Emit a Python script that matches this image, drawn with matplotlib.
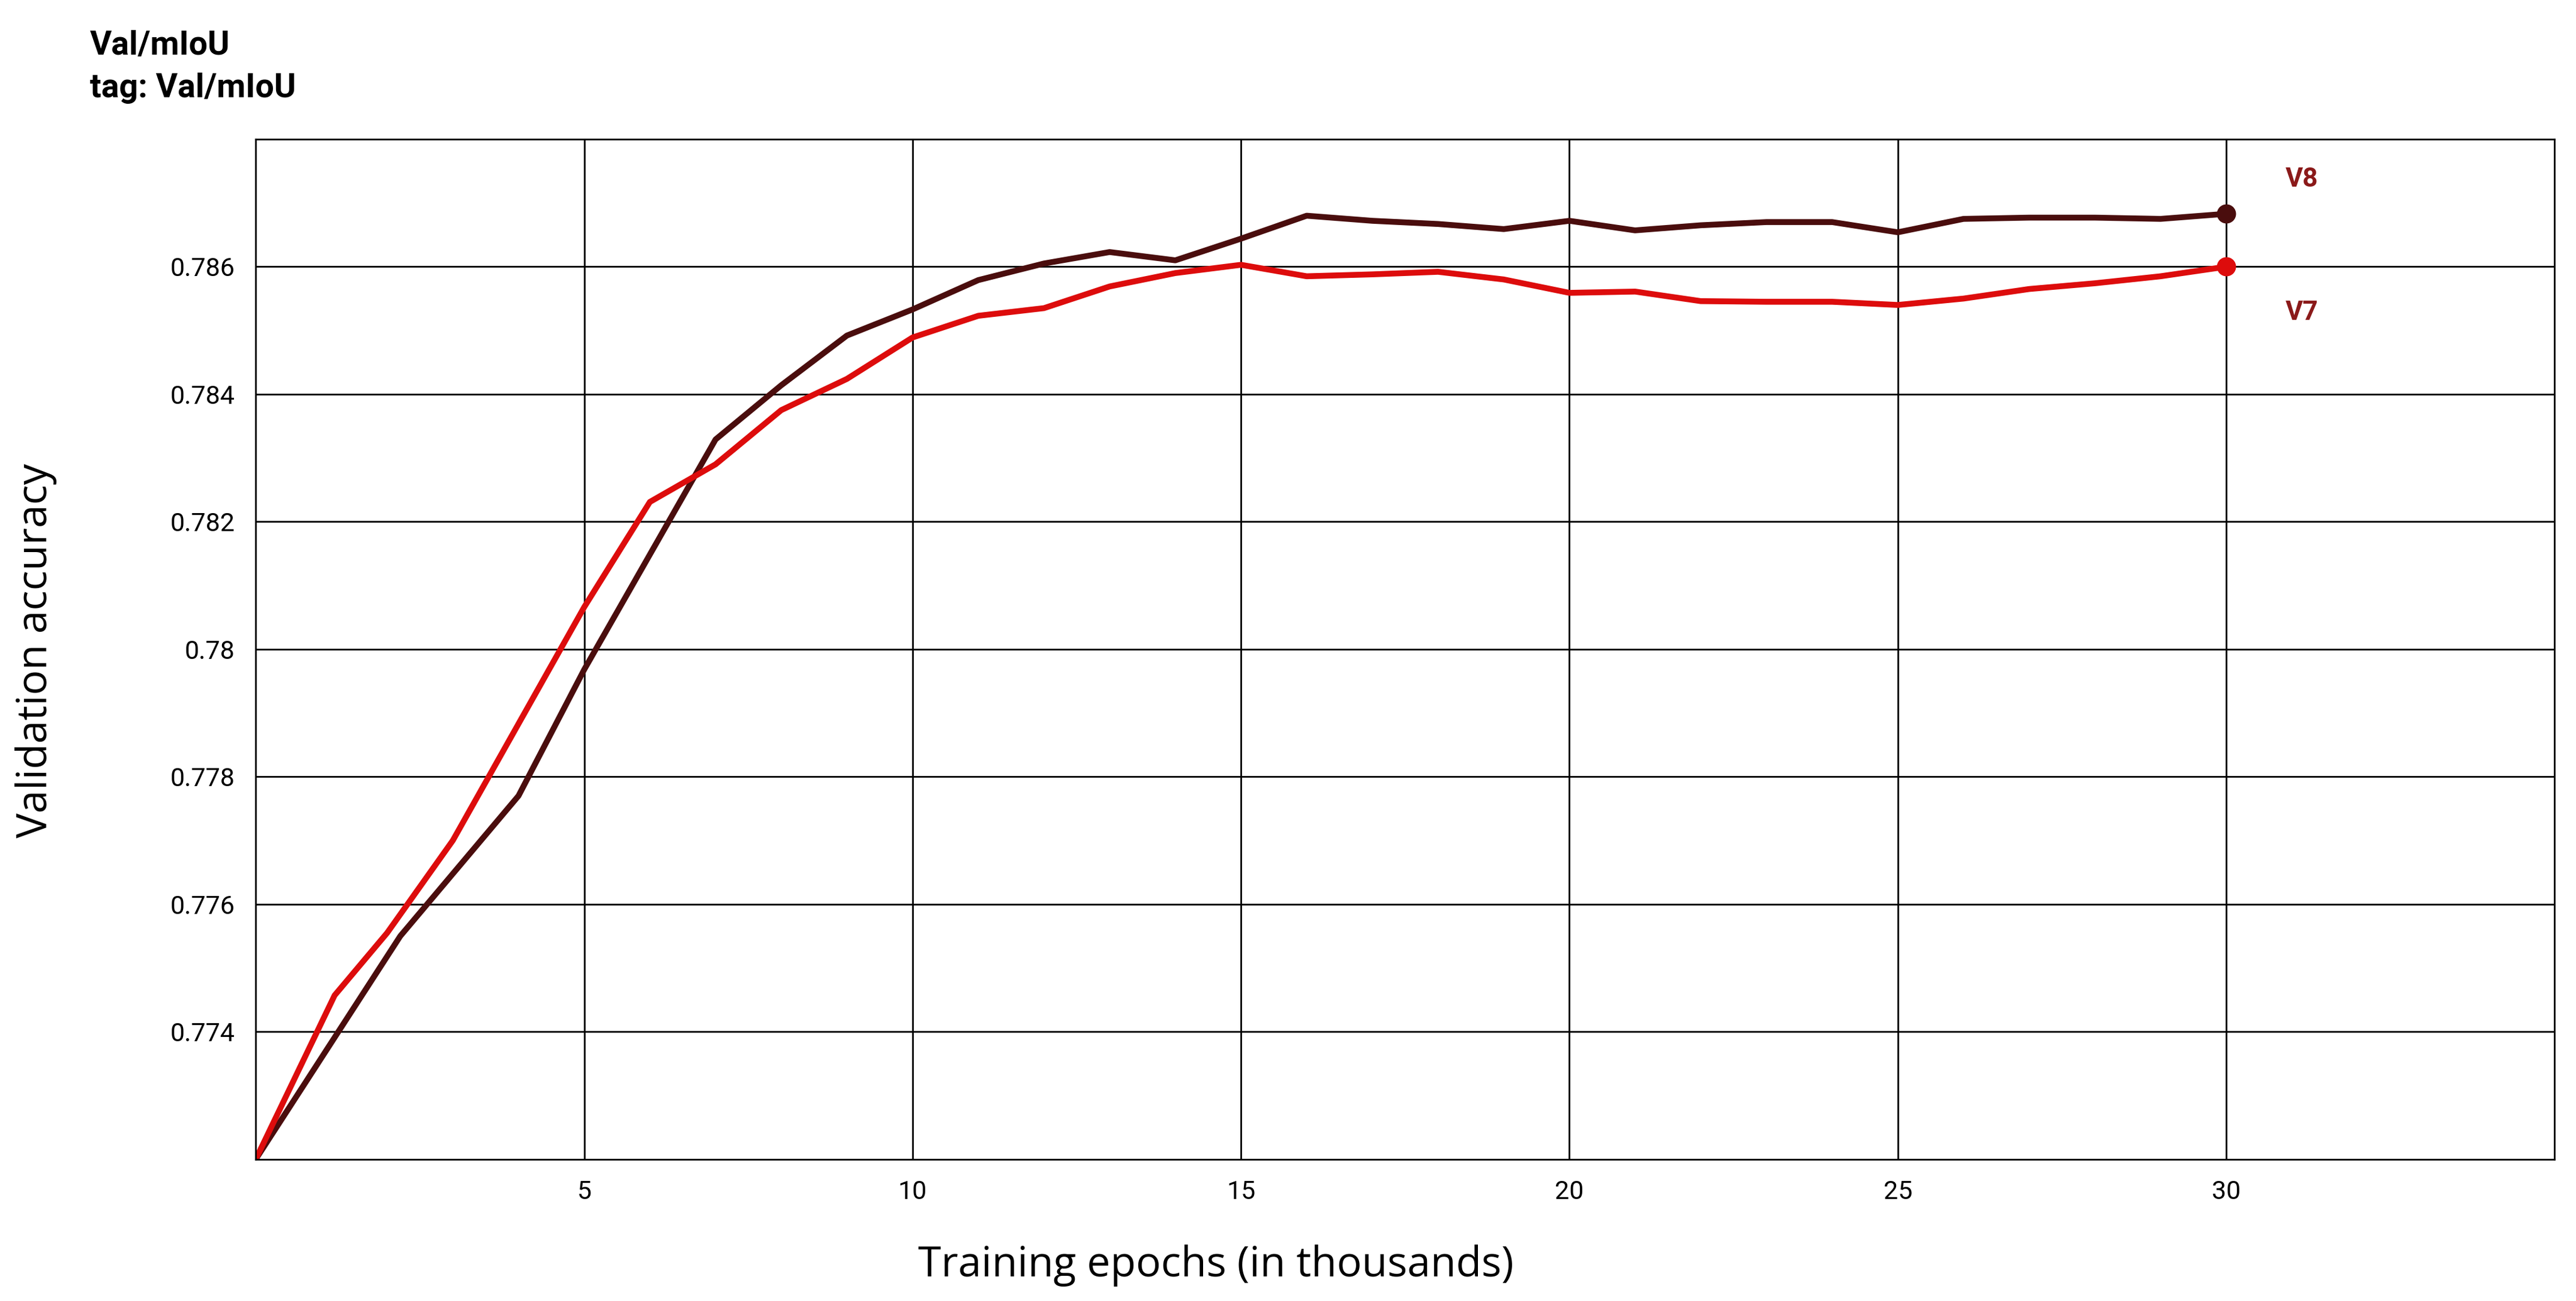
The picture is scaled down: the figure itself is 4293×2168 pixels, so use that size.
import matplotlib
matplotlib.use("Agg")
import matplotlib.pyplot as plt

epochs_v8 = [0, 2.2, 4, 5, 7, 8, 9, 10, 11, 12, 13, 14, 15, 16, 17, 18, 19, 20,
             21, 22, 23, 24, 25, 26, 27, 28, 29, 30]
acc_v8 = [0.772, 0.7755, 0.7777, 0.77968, 0.78329, 0.78414, 0.78492, 0.78533,
          0.78579, 0.78605, 0.78623, 0.7861, 0.78644, 0.7868, 0.78672, 0.78667,
          0.78659, 0.78672, 0.78657, 0.78665, 0.7867, 0.7867, 0.78654, 0.78675,
          0.78677, 0.78677, 0.78675, 0.78683]

epochs_v7 = [0, 1.2, 2, 3, 5, 6, 7, 8, 9, 10, 11, 12, 13, 14, 15, 16, 17, 18,
             19, 20, 21, 22, 23, 24, 25, 26, 27, 28, 29, 30]
acc_v7 = [0.772, 0.77457, 0.77555, 0.7770, 0.78066, 0.78231, 0.7829, 0.78375,
          0.78424, 0.78489, 0.78523, 0.78535, 0.78569, 0.7859, 0.78603, 0.78585,
          0.78588, 0.78592, 0.7858, 0.78559, 0.78561, 0.78546, 0.78545, 0.78545,
          0.7854, 0.7855, 0.78565, 0.78574, 0.78585, 0.786]

x_ticks = [5, 10, 15, 20, 25, 30]
y_ticks = [0.774, 0.776, 0.778, 0.78, 0.782, 0.784, 0.786]
y_tick_labels = ["0.774", "0.776", "0.778", "0.78", "0.782", "0.784", "0.786"]

c_v8 = "#4a0d0d"
c_v7 = "#dd0c0c"

fig = plt.figure(figsize=(42.93, 21.68), dpi=100)
ax = fig.add_axes([0.0993, 0.109, 0.8924, 0.784])

ax.plot(epochs_v8, acc_v8, color=c_v8, linewidth=7)
ax.plot(epochs_v7, acc_v7, color=c_v7, linewidth=7)
ax.plot(epochs_v8[-1], acc_v8[-1], "o", color=c_v8, markersize=22)
ax.plot(epochs_v7[-1], acc_v7[-1], "o", color=c_v7, markersize=22)

ax.text(30.9, 0.78737, "V8", color="#8b1a1a", fontsize=32, fontweight="bold",
        family="Roboto", va="center")
ax.text(30.9, 0.78528, "V7", color="#8b1a1a", fontsize=32, fontweight="bold",
        family="Roboto", va="center")

ax.set_xlim(0, 35)
ax.set_ylim(0.772, 0.788)
ax.set_xticks(x_ticks)
ax.set_yticks(y_ticks)
ax.set_yticklabels(y_tick_labels)
ax.grid(True, color="black", linewidth=2)
ax.tick_params(length=0, labelsize=31, pad=25)
for lbl in ax.get_xticklabels() + ax.get_yticklabels():
    lbl.set_family("Roboto")
for s in ax.spines.values():
    s.set_linewidth(2)

fig.text(0.472, 0.027, "Training epochs (in thousands)", fontsize=50,
         family="Open Sans", ha="center", va="center")
fig.text(0.014, 0.5, "Validation accuracy", fontsize=50, family="Open Sans",
         rotation=90, ha="center", va="center")

fig.text(0.035, 0.965, "Val/mIoU", fontsize=40, fontweight="bold", family="Roboto", va="center")
fig.text(0.035, 0.932, "tag: Val/mIoU", fontsize=40, fontweight="bold", family="Roboto", va="center")

fig.savefig("out.png", dpi=100)
